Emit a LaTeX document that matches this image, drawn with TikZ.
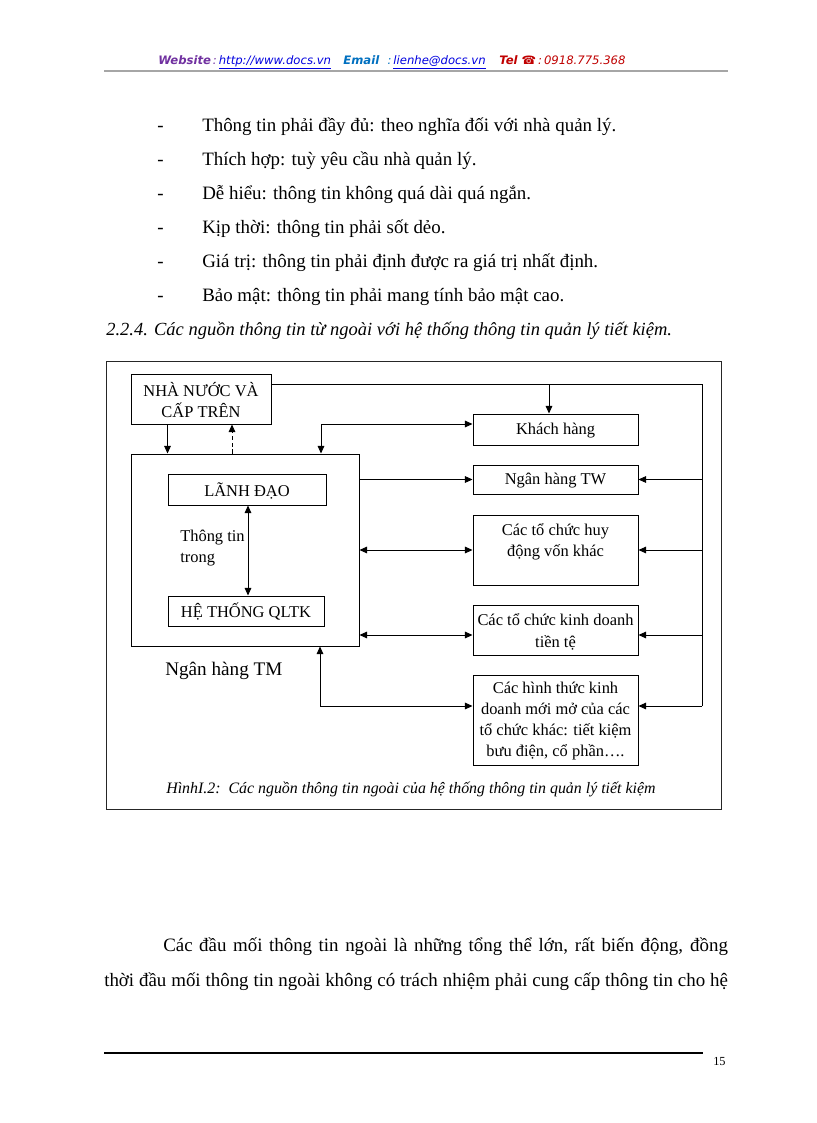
\documentclass[tikz,border=0pt]{standalone}
\usepackage{fontspec}
\setmainfont{Liberation Serif}
\newfontfamily\hdrfont{DejaVu Sans}
\usetikzlibrary{arrows.meta,fit}
\definecolor{hpurple}{HTML}{7030A0}
\definecolor{hblue}{HTML}{0070C0}
\definecolor{hlink}{HTML}{0000E0}
\definecolor{hred}{HTML}{C00000}
\begin{document}
\begin{tikzpicture}[x=0.7296pt,y=-0.7296pt,
  box/.style={draw, line width=0.7pt, inner sep=0pt},
  arr/.style={-{Triangle[length=5.5pt,width=4.8pt]}, line width=0.6pt},
  arrb/.style={{Triangle[length=5.5pt,width=4.8pt]}-{Triangle[length=5.5pt,width=4.8pt]}, line width=0.6pt},
  txt/.style={font=\fontsize{12}{15.5}\selectfont, align=center, inner sep=0pt},
  body/.style={font=\fontsize{13.8}{16}\selectfont, inner sep=0pt, anchor=base west},
  dashln/.style={dash pattern=on 3pt off 2pt}]
\useasboundingbox[fill=white] (0,0) rectangle (816,1123);

% header
\node[inner sep=0pt, anchor=base west, font=\hdrfont\fontsize{8.5}{10}\selectfont] (hdr) at (158,64)
 {{\color{hpurple}\bfseries\itshape Website}{\color{hpurple}\itshape\,:\,}{\color{hlink}\itshape\underline{http://www.docs.vn}}\hspace{9pt}{\color{hblue}\bfseries\itshape Email}\hspace{6pt}{\color{hblue}\itshape:\,}{\color{hlink}\itshape\underline{lienhe@docs.vn}}\hspace{10pt}{\color{hred}\bfseries\itshape Tel\ ☎}{\color{hred}\itshape\,:\,0918.775.368}};
\draw[gray!70, line width=1.1pt] (104,71) -- (728,71);

% bullets
\foreach \yy/\tx [count=\i] in {131/{Thông tin phải đầy đủ: theo nghĩa đối với nhà quản lý.},
  165/{Thích hợp: tuỳ yêu cầu nhà quản lý.},
  199/{Dễ hiểu: thông tin không quá dài quá ngắn.},
  233/{Kịp thời: thông tin phải sốt dẻo.},
  267/{Giá trị: thông tin phải định được ra giá trị nhất định.},
  301/{Bảo mật: thông tin phải mang tính bảo mật cao.}}{
  \node[body] (d\i) at (157,\yy) {-};
  \node[body] (b\i) at (202,\yy) {\tx};
}
\node[body, font=\fontsize{13.5}{16}\selectfont\itshape] (sec) at (106,335)
 {2.2.4. Các nguồn thông tin từ ngoài với hệ thống thông tin quản lý tiết kiệm.};

% frame
\draw[black!85, line width=0.6pt] (106,361) rectangle (721,809);

% boxes
\node[box, fit={(131,374)(271,424)}] (nn) {};
\node[txt] (nnt) at (201,400) {NHÀ NƯỚC VÀ\\CẤP TRÊN};
\node[box, fit={(131,454)(359,646)}] (tm) {};
\node[box, fit={(168,474)(326,505)}] (ld) {};
\node[txt] (ldt) at (247,491) {LÃNH ĐẠO};
\node[box, fit={(168,596)(324,626)}] (ht) {};
\node[txt] (htt) at (246,612) {HỆ THỐNG QLTK};
\node[box, fit={(473,414)(638,445)}] (kh) {};
\node[txt] (kht) at (555.5,431) {Khách hàng};
\node[box, fit={(473,465)(638,494)}] (tw) {};
\node[txt] (twt) at (555.5,481) {Ngân hàng TW};
\node[box, fit={(473,515)(638,585)}] (hd) {};
\node[txt] (hdt) at (555.5,542) {Các tổ chức huy\\động vốn khác};
\node[box, fit={(473,605)(638,655)}] (kd) {};
\node[txt] (kdt) at (555.5,632) {Các tổ chức kinh doanh\\tiền tệ};
\node[box, fit={(473,675)(638,765)}] (hf) {};
\node[txt] (hft) at (555.5,721) {Các hình thức kinh\\doanh mới mở của các\\tổ chức khác: tiết kiệm\\bưu điện, cổ phần….};

\node[txt, align=left, anchor=west] (ttt) at (180,548) {Thông tin\\trong};
\node[inner sep=0pt, anchor=west, font=\fontsize{14}{16}\selectfont] (tml) at (165,671) {Ngân hàng TM};
\node[inner sep=0pt, anchor=west, font=\fontsize{11.6}{13}\selectfont\itshape] (cap) at (166,789)
 {HìnhI.2:\ \ Các nguồn thông tin ngoài của hệ thống thông tin quản lý tiết kiệm};

% connectors
\coordinate (bus) at (702,384);
\coordinate (busb) at (702,706);
\draw[arr] (nn.south -| ld.west) -- (tm.north -| ld.west);
\draw[arr, dashln] (tm.north -| 232,0) -- (nn.south -| 232,0);
\draw[line width=0.6pt] (nn.east |- bus) -- (bus) -- (busb);
\draw[arr] (bus -| 549,0) -- (kh.north -| 549,0);
\draw[arr] (tw.east -| bus) -- (tw.east);
\draw[arr] (hd.east -| bus) -- (hd.east);
\draw[arr] (bus |- 0,635) -- (kd.east |- 0,635);
\draw[arr] (busb) -- (hf.east |- busb);
\draw[arrb] (tm.north -| 321,0) -- (321,424) -- (kh.west |- 0,424);
\draw[arr] (tm.east |- tw.west) -- (tw.west);
\draw[arrb] (tm.east |- hd.west) -- (hd.west);
\draw[arrb] (tm.east |- 0,635) -- (kd.west |- 0,635);
\draw[arrb] (tm.south -| 320,0) -- (320,706) -- (hf.west |- busb);
\draw[arrb] (ld.south -| 248,0) -- (ht.north -| 248,0);

% paragraph
\node[body] (p1) at (163,951) {\makebox[412pt][s]{Các đầu mối thông tin ngoài là những tổng thể lớn, rất biến động, đồng}};
\node[body] (p2) at (104,986) {\makebox[455pt][s]{thời đầu mối thông tin ngoài không có trách nhiệm phải cung cấp thông tin cho hệ}};

% footer
\draw[line width=1.5pt] (104,1053) -- (703,1053);
\node[inner sep=0pt, anchor=west, font=\fontsize{9}{10}\selectfont] (pg) at (713,1061) {15};
\end{tikzpicture}
\end{document}
